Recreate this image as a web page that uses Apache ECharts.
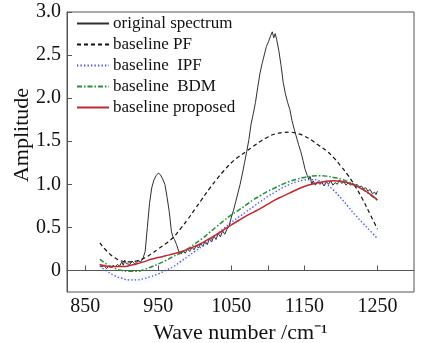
<!DOCTYPE html>
<html>
<head>
<meta charset="utf-8">
<script src="https://cdn.jsdelivr.net/npm/echarts@6/dist/echarts.min.js"></script>
<style>html,body{margin:0;padding:0;background:#fff;}#c{width:421px;height:343px;}</style>
</head>
<body>
<div id="c"></div>
<script>
// Series names
const seriesNames = ['original spectrum', 'baseline PF', 'baseline  IPF', 'baseline  BDM', 'baseline proposed'];

// Tick labels
const xTicks = [850, 950, 1050, 1150, 1250];
const yTicks = [0, 0.5, 1.0, 1.5, 2.0, 2.5, 3.0];

// Original spectrum (wave number, amplitude)
const specX = [870,873,876,879,882,885,888,891,894,897,900,902,904,906,908,911,914,917,920,923,926,929,932,935,938,941,944,947,950,953,956,959,962,965,968,970,972,975,978,981,984,987,990,993,996,999,1002,1005,1008,1011,1014,1017,1020,1023,1026,1029,1032,1035,1038,1041,1044,1047,1050,1053,1056,1059,1062,1065,1068,1071,1074,1077,1080,1083,1086,1089,1092,1095,1098,1101,1104,1106,1108,1110,1112,1115,1118,1121,1124,1127,1130,1133,1136,1139,1142,1145,1148,1151,1154,1156,1158,1160,1162,1165,1168,1171,1174,1177,1180,1183,1186,1189,1192,1195,1198,1201,1204,1207,1210,1213,1216,1219,1222,1225,1228,1231,1234,1237,1240,1243,1246,1248,1250];
const specY = [0.07,0.04,0.06,0.02,0.05,0.03,0.06,0.04,0.07,0.05,0.10,0.06,0.12,0.08,0.10,0.07,0.11,0.08,0.09,0.11,0.10,0.14,0.22,0.50,0.78,0.96,1.05,1.10,1.13,1.11,1.06,1.00,0.85,0.68,0.45,0.39,0.36,0.30,0.22,0.19,0.22,0.20,0.25,0.22,0.27,0.24,0.29,0.26,0.31,0.28,0.34,0.30,0.37,0.33,0.40,0.36,0.43,0.39,0.46,0.42,0.48,0.52,0.62,0.70,0.80,0.90,1.00,1.12,1.25,1.38,1.52,1.70,1.82,1.95,2.12,2.28,2.40,2.50,2.60,2.66,2.73,2.77,2.70,2.75,2.68,2.55,2.38,2.18,2.05,1.95,1.87,1.74,1.64,1.55,1.46,1.38,1.28,1.17,1.10,1.06,1.09,1.00,1.04,0.99,1.03,1.00,1.02,0.98,1.03,1.00,1.04,0.99,1.02,1.00,1.05,1.01,1.03,0.99,1.02,0.99,1.01,0.98,1.00,0.97,0.98,0.95,0.96,0.92,0.94,0.89,0.91,0.88,0.92];

// Baselines sampled on a common wave-number grid
const baseX = [870,880,890,900,910,920,930,940,950,960,970,980,990,1000,1010,1020,1030,1040,1050,1060,1070,1080,1090,1100,1110,1120,1130,1140,1150,1160,1170,1180,1190,1200,1210,1220,1230,1240,1250];
const pfY = [0.32,0.22,0.15,0.11,0.10,0.11,0.14,0.19,0.25,0.31,0.38,0.48,0.59,0.71,0.83,0.95,1.06,1.16,1.25,1.32,1.38,1.44,1.50,1.55,1.585,1.60,1.605,1.59,1.56,1.51,1.45,1.39,1.31,1.21,1.10,0.97,0.82,0.65,0.48];
const ipfY = [0.05,-0.01,-0.06,-0.09,-0.11,-0.11,-0.095,-0.07,-0.04,0.0,0.04,0.10,0.16,0.22,0.28,0.35,0.42,0.49,0.56,0.62,0.68,0.74,0.80,0.86,0.91,0.96,1.0,1.03,1.05,1.055,1.04,1.0,0.93,0.84,0.74,0.64,0.55,0.46,0.37];
const bdmY = [0.13,0.07,0.025,0.0,-0.01,-0.01,0.01,0.04,0.075,0.115,0.16,0.20,0.25,0.31,0.37,0.44,0.51,0.58,0.645,0.70,0.76,0.82,0.87,0.92,0.96,1.0,1.035,1.06,1.08,1.095,1.10,1.095,1.08,1.06,1.03,0.99,0.94,0.88,0.81];
const propY = [0.066,0.05,0.045,0.046,0.055,0.075,0.10,0.13,0.15,0.17,0.19,0.215,0.245,0.28,0.32,0.37,0.42,0.475,0.53,0.58,0.63,0.675,0.72,0.77,0.82,0.86,0.90,0.94,0.975,1.0,1.02,1.035,1.04,1.035,1.015,0.985,0.94,0.885,0.82];

const zip = (xs, ys) => xs.map((x, i) => [x, ys[i]]);
const FONT = 'Liberation Serif';
const INK = '#111';

const chart = echarts.init(document.getElementById('c'), null, {renderer: 'canvas'});
chart.setOption({
  animation: false,
  backgroundColor: '#fff',
  grid: {left: 67, right: 7, top: 12, bottom: 51, show: true, borderColor: '#555', borderWidth: 1,
         containLabel: false, outerBoundsMode: 'none'},
  legend: {
    orient: 'vertical', left: 76, top: 15, padding: 0,
    itemWidth: 32, itemHeight: 14, itemGap: 4,
    itemStyle: {opacity: 0},
    textStyle: {fontFamily: FONT, fontSize: 17, color: INK, padding: [0, 0, 0, -1]},
    data: seriesNames
  },
  xAxis: {
    type: 'value', min: 825, max: 1300,
    axisLine: {show: true, lineStyle: {color: '#555'}},
    axisTick: {show: true, inside: true, length: 5, customValues: [850, 950, 1050, 1100, 1150, 1250], lineStyle: {color: '#555'}},
    axisLabel: {customValues: xTicks, fontFamily: FONT, fontSize: 20, color: INK, margin: 5,
      formatter: v => String(v)},
    splitLine: {show: false},
    name: 'Wave number /cm\u207B\u00B9', nameLocation: 'middle', nameGap: 19,
    nameTextStyle: {fontFamily: FONT, fontSize: 22, color: INK}
  },
  yAxis: {
    type: 'value', min: -0.25, max: 3.0,
    axisLine: {show: true, lineStyle: {color: '#555'}},
    axisTick: {show: true, inside: true, length: 5, customValues: yTicks, lineStyle: {color: '#555'}},
    axisLabel: {customValues: yTicks, fontFamily: FONT, fontSize: 20, color: INK, margin: 6,
      formatter: v => (Math.abs(v) < 1e-9 ? '0' : v.toFixed(1))},
    splitLine: {show: false}
  },
  graphic: [{
    type: 'text', x: 22, y: 135, rotation: Math.PI / 2,
    style: {text: 'Amplitude', fontFamily: FONT, fontSize: 22, fill: INK, align: 'center', verticalAlign: 'middle'}
  }],
  series: [
    {name: seriesNames[0], type: 'line', symbol: 'none', data: zip(specX, specY),
     lineStyle: {color: '#2e2e36', width: 1}, itemStyle: {color: '#2e2e36'}, z: 2},
    {name: seriesNames[1], type: 'line', symbol: 'none', data: zip(baseX, pfY), smooth: true,
     lineStyle: {color: '#111', width: 1.2, type: [4, 3]}, itemStyle: {color: '#111'}, z: 3},
    {name: seriesNames[2], type: 'line', symbol: 'none', data: zip(baseX, ipfY), smooth: true,
     lineStyle: {color: '#3b4fd0', width: 1.3, type: [1.3, 2.2], shadowColor: 'rgba(120,120,150,0.6)', shadowBlur: 4}, itemStyle: {color: '#3b4fd0'}, z: 4},
    {name: seriesNames[3], type: 'line', symbol: 'none', data: zip(baseX, bdmY), smooth: true,
     lineStyle: {color: '#23913a', width: 1.5, type: [5, 2, 1.5, 2]}, itemStyle: {color: '#23913a'}, z: 5},
    {name: seriesNames[4], type: 'line', symbol: 'none', data: zip(baseX, propY), smooth: true,
     lineStyle: {color: '#c4262e', width: 1.5}, itemStyle: {color: '#c4262e'}, z: 6}
  ]
});
</script>
</body>
</html>
